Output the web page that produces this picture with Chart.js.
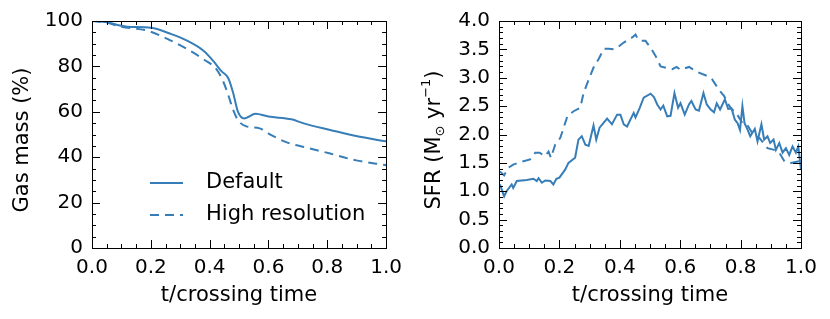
<!DOCTYPE html>
<html lang="en">
<head>
    <meta charset="UTF-8">
    <title>Gas mass and SFR vs crossing time</title>
    <script src="https://cdn.jsdelivr.net/npm/chart.js"></script>
    <style>
        body { margin: 0; background: #fff; }
        .wrap { position: relative; width: 830px; height: 319px; }
        #gasBox { position: absolute; left: 0; top: 0; width: 410px; height: 319px; }
        #sfrBox { position: absolute; left: 410px; top: 0; width: 420px; height: 319px; }
    </style>
</head>
<body>
<div class="wrap">
    <div id="gasBox"><canvas id="gasChart"></canvas></div>
    <div id="sfrBox"><canvas id="sfrChart"></canvas></div>
</div>

<script>
    // --- Data ---
    const xTickLabels = ['0.0', '0.2', '0.4', '0.6', '0.8', '1.0'];
    const gasTickLabels = ['0', '20', '40', '60', '80', '100'];
    const sfrTickLabels = ['0.0', '0.5', '1.0', '1.5', '2.0', '2.5', '3.0', '3.5', '4.0'];
    const seriesNames = ['Default', 'High resolution'];

    // left panel: gas mass (%)
    const tGasDefault = [0, 0.03, 0.06, 0.09, 0.12, 0.2, 0.27, 0.325, 0.38, 0.413, 0.44, 0.463, 0.48, 0.496, 0.518, 0.556, 0.6, 0.678, 0.72, 0.81, 0.898, 1.0];
    const gasDefault = [100, 99.8, 99.2, 98.1, 97.5, 97.0, 94.2, 91.2, 86.8, 82.3, 77.9, 74.9, 68.3, 60.1, 57.1, 59.1, 57.9, 56.7, 54.9, 52.0, 49.3, 47.0];
    const tGasHighRes = [0, 0.05, 0.093, 0.19, 0.258, 0.325, 0.38, 0.424, 0.446, 0.463, 0.48, 0.496, 0.523, 0.57, 0.61, 0.667, 0.72, 0.81, 0.898, 1.0];
    const gasHighRes = [100, 99.3, 97.6, 95.7, 92.0, 87.5, 83.1, 78.6, 73.4, 67.5, 60.8, 56.4, 53.7, 52.7, 49.7, 46.3, 44.5, 41.6, 38.6, 36.5];

    // right panel: SFR (Msun / yr)
    const tSfrDefault = [0.003, 0.017, 0.025, 0.042, 0.047, 0.059, 0.092, 0.114, 0.125, 0.131, 0.142, 0.153, 0.17, 0.18, 0.19, 0.2,
        0.219, 0.23, 0.252, 0.263, 0.274, 0.286, 0.297, 0.313, 0.322, 0.333, 0.358, 0.374, 0.391, 0.402, 0.413, 0.424,
        0.446, 0.452, 0.466, 0.479, 0.502, 0.513, 0.524, 0.535, 0.544, 0.557, 0.568, 0.581, 0.593, 0.601, 0.615, 0.629,
        0.637, 0.651, 0.662, 0.677, 0.688, 0.701, 0.712, 0.721, 0.732, 0.748, 0.759, 0.77, 0.781, 0.79, 0.798, 0.806,
        0.813, 0.822, 0.832, 0.847, 0.856, 0.869, 0.878, 0.889, 0.898, 0.909, 0.917, 0.928, 0.939, 0.95, 0.961, 0.972,
        0.983, 0.991, 1.0];
    const sfrDefault = [1.12, 0.91, 1.0, 1.12, 1.06, 1.18, 1.2, 1.22, 1.18, 1.23, 1.15, 1.19, 1.18, 1.12, 1.22, 1.24,
        1.38, 1.5, 1.59, 1.91, 1.97, 1.82, 1.8, 2.16, 1.91, 2.12, 2.28, 2.18, 2.35, 2.35, 2.18, 2.14,
        2.38, 2.3, 2.47, 2.65, 2.72, 2.66, 2.53, 2.44, 2.51, 2.32, 2.33, 2.73, 2.47, 2.55, 2.35, 2.53,
        2.59, 2.44, 2.42, 2.73, 2.53, 2.44, 2.39, 2.55, 2.44, 2.62, 2.45, 2.46, 2.26, 2.2, 2.08, 2.5,
        2.2, 2.1, 1.97, 2.1, 1.88, 2.18, 1.91, 1.97, 1.85, 1.91, 1.73, 1.85, 1.68, 1.76, 1.64, 1.79,
        1.68, 1.79, 1.38];
    const tSfrHighRes = [0.003, 0.017, 0.03, 0.047, 0.081, 0.103, 0.12, 0.134, 0.153, 0.164, 0.172, 0.186, 0.203, 0.219,
        0.227, 0.247, 0.269, 0.28, 0.297, 0.313, 0.33, 0.347, 0.363, 0.38, 0.396, 0.413, 0.43, 0.441, 0.452, 0.46,
        0.469, 0.485, 0.502, 0.518, 0.535, 0.557, 0.574, 0.588, 0.601, 0.629, 0.657, 0.69, 0.706, 0.728, 0.745,
        0.76, 0.771, 0.782, 0.806, 0.822, 0.845, 0.862, 0.889, 0.911, 0.928, 0.945, 0.967, 0.994, 1.0];
    const sfrHighRes = [1.35, 1.28, 1.41, 1.47, 1.53, 1.56, 1.68, 1.68, 1.62, 1.7, 1.59, 1.82, 1.94, 2.2,
        2.33, 2.41, 2.47, 2.73, 2.97, 3.18, 3.33, 3.51, 3.51, 3.5, 3.55, 3.62, 3.68, 3.71, 3.76, 3.68,
        3.65, 3.65, 3.53, 3.39, 3.2, 3.17, 3.15, 3.19, 3.14, 3.19, 3.1, 3.03, 2.97, 2.79, 2.68,
        2.53, 2.44, 2.41, 2.2, 2.17, 1.97, 1.94, 1.76, 1.73, 1.68, 1.53, 1.5, 1.53, 1.44];

    const lineBlue = '#377eb8';
    const dashPattern = [9, 6];
    const fontFamily = "'DejaVu Sans', sans-serif";

    function toPoints(xs, ys) {
        return xs.map((x, i) => ({ x: x, y: ys[i] }));
    }

    // frame, inward ticks on all four sides, axis titles and legend
    const framePlugin = {
        id: 'framePlugin',
        afterDraw(chart, args, opts) {
            const ctx = chart.ctx;
            const a = chart.chartArea;
            const xs = chart.scales.x, ys = chart.scales.y;
            ctx.save();
            ctx.strokeStyle = '#000';
            ctx.lineWidth = 1;
            ctx.strokeRect(Math.round(a.left) + 0.5, Math.round(a.top) + 0.5,
                Math.round(a.right - a.left), Math.round(a.bottom - a.top));

            function ticks(scale, step, majorEvery, horizontal) {
                const n = Math.round((scale.max - scale.min) / step);
                for (let i = 0; i <= n; i++) {
                    const v = scale.min + i * step;
                    const len = (i % majorEvery === 0) ? 8 : 4;
                    const p = Math.round(scale.getPixelForValue(v)) + 0.5;
                    ctx.beginPath();
                    if (horizontal) {
                        ctx.moveTo(p, a.bottom); ctx.lineTo(p, a.bottom - len);
                        ctx.moveTo(p, a.top); ctx.lineTo(p, a.top + len);
                    } else {
                        ctx.moveTo(a.left, p); ctx.lineTo(a.left + len, p);
                        ctx.moveTo(a.right, p); ctx.lineTo(a.right - len, p);
                    }
                    ctx.stroke();
                }
            }
            ticks(xs, opts.xMinor, opts.xMajorEvery, true);
            ticks(ys, opts.yMinor, opts.yMajorEvery, false);

            // x title
            ctx.fillStyle = '#000';
            ctx.font = '21px ' + fontFamily;
            ctx.textAlign = 'center';
            ctx.textBaseline = 'middle';
            ctx.fillText(opts.xTitle, (a.left + a.right) / 2, 296);

            // y title, built from pieces (text, size, shift)
            const parts = opts.yTitle;
            ctx.translate(opts.yTitleX, 140);
            ctx.rotate(-Math.PI / 2);
            let total = 0;
            parts.forEach(p => { ctx.font = p[1] + 'px ' + fontFamily; total += ctx.measureText(p[0]).width; });
            let cx = -total / 2;
            ctx.textAlign = 'left';
            parts.forEach(p => {
                ctx.font = p[1] + 'px ' + fontFamily;
                ctx.fillText(p[0], cx, p[2]);
                cx += ctx.measureText(p[0]).width;
            });
            ctx.restore();

            if (opts.legend) {
                ctx.save();
                ctx.font = '21px ' + fontFamily;
                ctx.textBaseline = 'middle';
                ctx.fillStyle = '#000';
                chart.data.datasets.forEach((ds, i) => {
                    const yy = 183 + i * 32;
                    ctx.strokeStyle = ds.borderColor;
                    ctx.lineWidth = ds.borderWidth;
                    ctx.setLineDash(ds.borderDash || []);
                    ctx.beginPath();
                    ctx.moveTo(150, yy); ctx.lineTo(183, yy);
                    ctx.stroke();
                    ctx.fillText(ds.label, 206, yy);
                });
                ctx.restore();
            }
        }
    };

    function makeScales(yMax, yStep, yLabels, yWidth) {
        const tickFont = { family: fontFamily, size: 20 };
        return {
            x: {
                type: 'linear', min: 0, max: 1,
                grid: { display: false, drawTicks: false },
                border: { display: false },
                ticks: {
                    stepSize: 0.2, autoSkip: false, maxRotation: 0, padding: 8,
                    color: '#000', font: tickFont,
                    callback: (v) => xTickLabels[Math.round(v / 0.2)]
                },
                afterFit: (s) => { s.height = 71; }
            },
            y: {
                type: 'linear', min: 0, max: yMax,
                grid: { display: false, drawTicks: false },
                border: { display: false },
                ticks: {
                    stepSize: yStep, autoSkip: false, padding: 9,
                    color: '#000', font: tickFont,
                    callback: (v) => yLabels[Math.round(v / yStep)]
                },
                afterFit: (s) => { s.width = yWidth; }
            }
        };
    }

    function lineSet(label, xs, ys, dashed, smooth) {
        return {
            label: label,
            data: toPoints(xs, ys),
            borderColor: lineBlue,
            borderWidth: 2,
            borderDash: dashed ? dashPattern : [],
            pointRadius: 0,
            fill: false,
            cubicInterpolationMode: smooth ? 'monotone' : 'default',
            tension: 0
        };
    }

    new Chart(document.getElementById('gasChart'), {
        type: 'line',
        data: {
            datasets: [
                lineSet(seriesNames[0], tGasDefault, gasDefault, false, true),
                lineSet(seriesNames[1], tGasHighRes, gasHighRes, true, true)
            ]
        },
        options: {
            responsive: true, maintainAspectRatio: false, animation: false,
            layout: { padding: { top: 21, right: 16, left: 0, bottom: 0 } },
            scales: makeScales(100, 20, gasTickLabels, 92),
            plugins: {
                legend: { display: false },
                tooltip: { enabled: false },
                framePlugin: {
                    xMinor: 0.05, xMajorEvery: 4, yMinor: 5, yMajorEvery: 4,
                    xTitle: 't/crossing time',
                    yTitle: [['Gas mass (%)', 21, 0]], yTitleX: 23,
                    legend: true
                }
            }
        },
        plugins: [framePlugin]
    });

    new Chart(document.getElementById('sfrChart'), {
        type: 'line',
        data: {
            datasets: [
                lineSet(seriesNames[0], tSfrDefault, sfrDefault, false, false),
                lineSet(seriesNames[1], tSfrHighRes, sfrHighRes, true, false)
            ]
        },
        options: {
            responsive: true, maintainAspectRatio: false, animation: false,
            layout: { padding: { top: 21, right: 29, left: 0, bottom: 0 } },
            scales: makeScales(4, 0.5, sfrTickLabels, 89),
            plugins: {
                legend: { display: false },
                tooltip: { enabled: false },
                framePlugin: {
                    xMinor: 0.05, xMajorEvery: 4, yMinor: 0.1, yMajorEvery: 5,
                    xTitle: 't/crossing time',
                    yTitle: [['SFR (M', 21, 0], ['\u2299', 13, 6], [' yr', 21, 0], ['\u22121', 13, -8], [')', 21, 0]],
                    yTitleX: 25,
                    legend: false
                }
            }
        },
        plugins: [framePlugin]
    });
</script>
</body>
</html>
